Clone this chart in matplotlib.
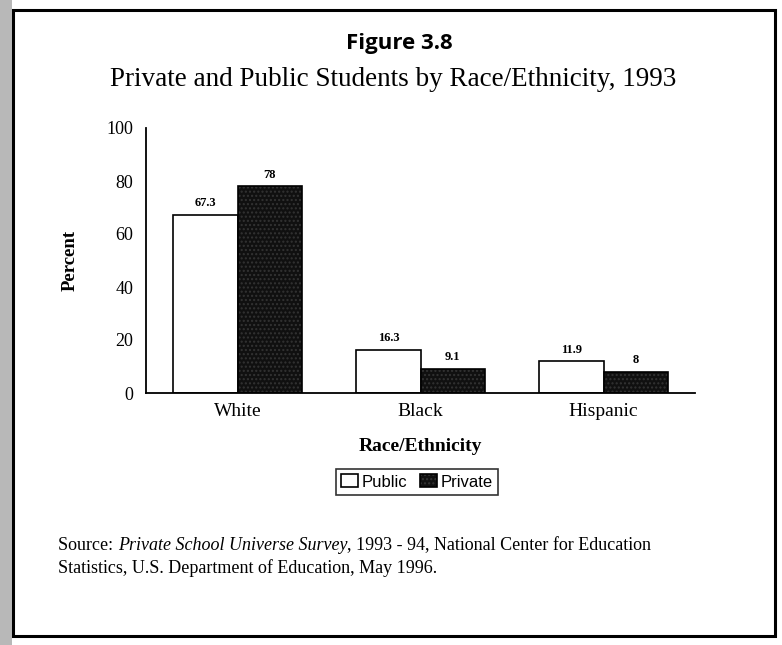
import matplotlib.pyplot as plt
import matplotlib.patches as mpatches
import numpy as np

categories = ["White", "Black", "Hispanic"]
public = [67.3, 16.3, 11.9]
private = [78, 9.1, 8]
public_labels = ["67.3", "16.3", "11.9"]
private_labels = ["78", "9.1", "8"]
y_ticks = [0, 20, 40, 60, 80, 100]

serif = "Liberation Serif"

fig = plt.figure(figsize=(7.82, 6.45), dpi=100)
fig.patch.set_facecolor("white")

# outer frame of the figure box
frame = mpatches.Rectangle((13 / 782, 1 - 636 / 645), 762 / 782, 626 / 645,
                           transform=fig.transFigure, fill=False,
                           edgecolor="black", linewidth=2.2)
fig.patches.append(frame)
left_edge = mpatches.Rectangle((0, 0), 12 / 782, 1, transform=fig.transFigure,
                               facecolor="#8a8a8a", edgecolor="none", alpha=0.6)
fig.patches.append(left_edge)

fig.text(0.511, 1 - 43 / 645, "Figure 3.8", ha="center", va="center",
         fontsize=16, fontweight="bold", family="Open Sans")
fig.text(393 / 782, 1 - 79 / 645, "Private and Public Students by Race/Ethnicity, 1993",
         ha="center", va="center", fontsize=19.5, family=serif)

ax = fig.add_axes([146 / 782, 1 - 393 / 645, 549 / 782, 265 / 645])
x = np.arange(len(categories))
w = 0.35
b1 = ax.bar(x - w / 2, public, w, facecolor="white", edgecolor="black",
            linewidth=1.2, label="Public")
b2 = ax.bar(x + w / 2, private, w, facecolor="#101010", edgecolor="black",
            linewidth=1.2, hatch="....", label="Private")
for bar in b2:
    bar._hatch_color = (0.2, 0.2, 0.2, 1.0)

for bars, labels in ((b1, public_labels), (b2, private_labels)):
    for bar, lab in zip(bars, labels):
        ax.annotate(lab, (bar.get_x() + bar.get_width() / 2, bar.get_height()),
                    xytext=(0, 4), textcoords="offset points", ha="center",
                    va="bottom", fontsize=9, family=serif, fontweight="bold")

ax.set_xlim(-0.5, 2.5)
ax.set_ylim(0, 100)
ax.set_yticks(y_ticks)
ax.set_yticklabels([str(t) for t in y_ticks], family=serif, fontsize=13)
ax.set_xticks(x)
ax.set_xticklabels(categories, family=serif, fontsize=14)
ax.tick_params(axis="both", length=0)
ax.tick_params(axis="y", pad=9)
ax.tick_params(axis="x", pad=7)
for s in ("top", "right"):
    ax.spines[s].set_visible(False)
ax.spines["left"].set_linewidth(1.3)
ax.spines["bottom"].set_linewidth(1.3)

ax.set_xlabel("Race/Ethnicity", family=serif, fontsize=14, fontweight="bold",
              labelpad=13)
ax.set_ylabel("Percent", family=serif, fontsize=13.5, fontweight="bold",
              labelpad=20)

leg = fig.legend(handles=[b1, b2], loc="center", bbox_to_anchor=(417 / 782, 1 - 482 / 645),
                 ncol=2, frameon=True, fancybox=False, edgecolor="black",
                 prop={"family": "Liberation Sans", "size": 12}, handlelength=1.0,
                 handleheight=0.8, handletextpad=0.2, columnspacing=0.8,
                 borderpad=0.3, borderaxespad=0)
leg.get_frame().set_linewidth(1.2)

# source note: plain, italic title, plain again on one line
src_size = 13
t1 = fig.text(58 / 782, 1 - 550 / 645, "Source: ", family=serif,
              fontsize=src_size, va="baseline")
t2 = fig.text(0, 0, "Private School Universe Survey", family=serif,
              fontsize=src_size, style="italic", va="baseline")
t3 = fig.text(0, 0, ", 1993 - 94, National Center for Education",
              family=serif, fontsize=src_size, va="baseline")
fig.canvas.draw()
r = fig.canvas.get_renderer()
bb1 = t1.get_window_extent(r)
t2.set_position(((bb1.x1) / fig.bbox.width, t1.get_position()[1]))
bb2 = t2.get_window_extent(r)
t3.set_position(((bb2.x1) / fig.bbox.width, t1.get_position()[1]))
fig.text(58 / 782, 1 - 573 / 645,
         "Statistics, U.S. Department of Education, May 1996.",
         family=serif, fontsize=src_size, va="baseline")

fig.savefig("out.png", dpi=100)
